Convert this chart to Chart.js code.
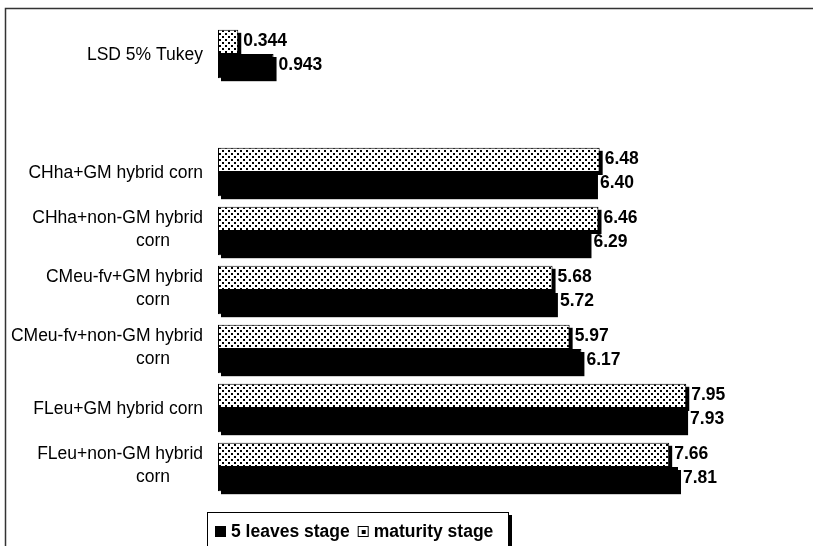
<!DOCTYPE html>
<html>
<head>
<meta charset="utf-8">
<script src="https://cdn.jsdelivr.net/npm/chart.js@4/dist/chart.umd.min.js"></script>
<style>
  html, body { margin: 0; padding: 0; background: #fff; }
  #wrap { width: 813px; height: 546px; position: relative; }
</style>
</head>
<body>
<div id="wrap"><canvas id="c" width="813" height="546"></canvas></div>
<script>
// Treatments (top to bottom); an empty slot separates the LSD row from the treatments
const categories = [
  'LSD 5% Tukey',
  '',
  'CHha+GM hybrid corn',
  ['CHha+non-GM hybrid', 'corn'],
  ['CMeu-fv+GM hybrid', 'corn'],
  ['CMeu-fv+non-GM hybrid', 'corn'],
  'FLeu+GM hybrid corn',
  ['FLeu+non-GM hybrid', 'corn']
];
const maturityStage   = [0.344, null, 6.48, 6.46, 5.68, 5.97, 7.95, 7.66];
const fiveLeavesStage = [0.943, null, 6.40, 6.29, 5.72, 6.17, 7.93, 7.81];
const seriesNames = ['5 leaves stage', 'maturity stage'];

const FONT = '"Liberation Sans", Arial, Helvetica, sans-serif';

// dotted fill used for the maturity stage bars
function makeDots() {
  const t = document.createElement('canvas');
  t.width = 6; t.height = 6;
  const g = t.getContext('2d');
  g.fillStyle = '#fff';
  g.fillRect(0, 0, 6, 6);
  g.fillStyle = '#000';
  g.fillRect(0, 0, 2, 2);
  g.fillRect(3, 3, 2, 2);
  return document.getElementById('c').getContext('2d').createPattern(t, 'repeat');
}
const dots = makeDots();

function fmt(v) { return v < 1 ? v.toFixed(3) : v.toFixed(2); }

// hard black drop shadow behind every bar
const barShadow = {
  id: 'barShadow',
  beforeDatasetsDraw(chart) {
    const ctx = chart.ctx;
    ctx.save();
    ctx.fillStyle = '#000';
    chart.data.datasets.forEach((ds, di) => {
      chart.getDatasetMeta(di).data.forEach((el, i) => {
        if (ds.data[i] == null) return;
        const p = el.getProps(['x', 'y', 'base', 'height'], true);
        ctx.fillRect(p.base + 3, p.y - p.height / 2 + 3, p.x - p.base, p.height);
      });
    });
    ctx.restore();
  }
};

// value labels at the end of each bar
const valueLabels = {
  id: 'valueLabels',
  afterDatasetsDraw(chart) {
    const ctx = chart.ctx;
    ctx.save();
    ctx.font = 'bold 17.5px ' + FONT;
    ctx.fillStyle = '#000';
    ctx.textAlign = 'left';
    ctx.textBaseline = 'middle';
    chart.data.datasets.forEach((ds, di) => {
      chart.getDatasetMeta(di).data.forEach((el, i) => {
        const v = ds.data[i];
        if (v == null) return;
        const p = el.getProps(['x', 'y'], true);
        ctx.fillText(fmt(v), p.x + 5, p.y - 1);
      });
    });
    ctx.restore();
  }
};

// category names: first line right-aligned, wrapped word centred at a fixed spot
const categoryLabels = {
  id: 'categoryLabels',
  afterDraw(chart) {
    const ctx = chart.ctx;
    const ys = chart.scales.y;
    const right = 203;
    const wrapCentre = 153;
    ctx.save();
    ctx.font = '17.5px ' + FONT;
    ctx.fillStyle = '#000';
    ctx.textBaseline = 'middle';
    categories.forEach((lab, i) => {
      const cy = ys.getPixelForTick(i);
      if (Array.isArray(lab)) {
        ctx.textAlign = 'right';
        ctx.fillText(lab[0], right, cy - 13);
        ctx.textAlign = 'center';
        ctx.fillText(lab[1], wrapCentre, cy + 10);
      } else if (lab) {
        ctx.textAlign = 'right';
        ctx.fillText(lab, right, cy + 1);
      }
    });
    ctx.restore();
  }
};

// outer frame and boxed legend
const frameAndLegend = {
  id: 'frameAndLegend',
  afterDraw(chart) {
    const ctx = chart.ctx;
    ctx.save();
    ctx.strokeStyle = '#333';
    ctx.lineWidth = 1.5;
    ctx.beginPath();
    ctx.moveTo(5.5, 560);
    ctx.lineTo(5.5, 8.5);
    ctx.lineTo(820, 8.5);
    ctx.stroke();

    // legend box with shadow on the right
    ctx.fillStyle = '#000';
    ctx.fillRect(509, 515, 3, 40);
    ctx.fillStyle = '#fff';
    ctx.fillRect(207, 512, 302, 40);
    ctx.strokeStyle = '#000';
    ctx.lineWidth = 1;
    ctx.strokeRect(207.5, 512.5, 301, 40);

    ctx.font = 'bold 17.5px ' + FONT;
    ctx.textBaseline = 'alphabetic';
    ctx.textAlign = 'left';
    let x = 215;
    const base = 537;
    // 5 leaves stage marker
    ctx.fillStyle = '#000';
    ctx.fillRect(x, base - 11, 11, 11);
    x += 16;
    ctx.fillText(seriesNames[0], x, base);
    x += ctx.measureText(seriesNames[0]).width + 8;
    // maturity stage marker
    ctx.fillStyle = '#fff';
    ctx.fillRect(x, base - 11, 11, 11);
    ctx.fillStyle = '#000';
    ctx.fillRect(x + 4, base - 7, 4, 4);
    ctx.strokeStyle = '#000';
    ctx.lineWidth = 1;
    ctx.strokeRect(x + 0.5, base - 10.5, 10, 10);
    x += 16;
    ctx.fillText(seriesNames[1], x, base);
    ctx.restore();
  }
};

new Chart(document.getElementById('c'), {
  type: 'bar',
  data: {
    labels: categories,
    datasets: [
      {
        label: seriesNames[1],
        data: maturityStage,
        backgroundColor: dots,
        borderColor: '#000',
        borderWidth: 1,
        borderSkipped: false
      },
      {
        label: seriesNames[0],
        data: fiveLeavesStage,
        backgroundColor: '#000',
        borderColor: '#000',
        borderWidth: 1,
        borderSkipped: false
      }
    ]
  },
  options: {
    indexAxis: 'y',
    responsive: false,
    animation: false,
    events: [],
    layout: { padding: { left: 218, right: 6, top: 24.5, bottom: 49.5 } },
    datasets: { bar: { categoryPercentage: 0.82, barPercentage: 1 } },
    scales: {
      x: { display: false, min: 0, max: 10 },
      y: { display: false }
    },
    plugins: {
      legend: { display: false },
      tooltip: { enabled: false }
    }
  },
  plugins: [barShadow, valueLabels, categoryLabels, frameAndLegend]
});
</script>
</body>
</html>
